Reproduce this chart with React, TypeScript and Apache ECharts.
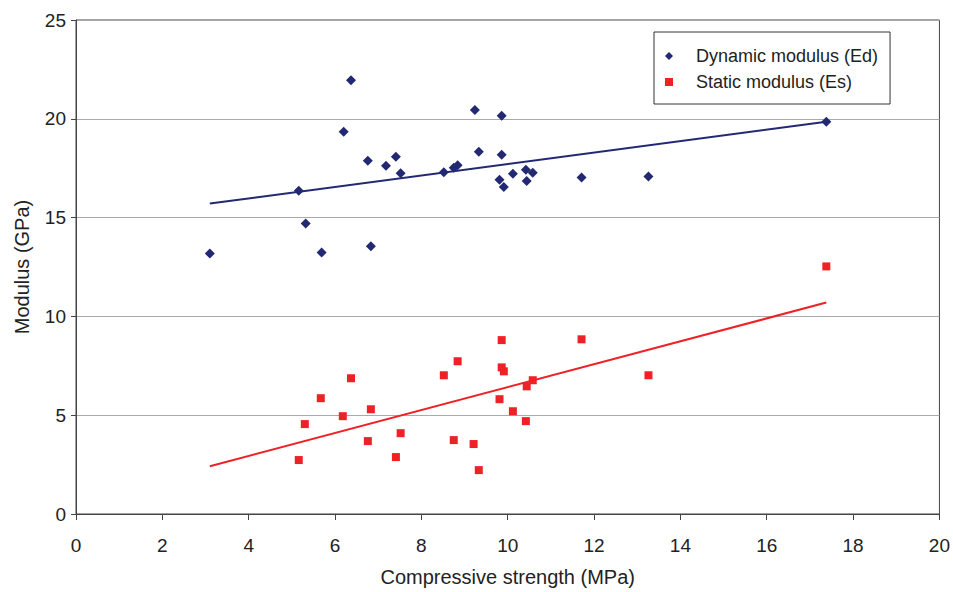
import React, { useEffect, useRef } from "react";
import * as echarts from "echarts";

const strengthEd = [3.1, 5.16, 5.32, 5.69, 6.2, 6.37, 6.76, 6.83, 7.18, 7.41, 7.52, 8.52, 8.75, 8.84, 9.24, 9.33, 9.81, 9.86, 9.86, 9.91, 10.12, 10.42, 10.44, 10.58, 11.71, 13.26, 17.38];
const dynamicModulus = [13.18, 16.36, 14.7, 13.23, 19.35, 21.95, 17.88, 13.55, 17.63, 18.08, 17.25, 17.3, 17.52, 17.65, 20.45, 18.33, 16.92, 20.15, 18.18, 16.55, 17.22, 17.42, 16.85, 17.27, 17.03, 17.08, 19.85];

const strengthEs = [5.16, 5.3, 5.67, 6.18, 6.37, 6.76, 6.83, 7.41, 7.52, 8.52, 8.75, 8.84, 9.21, 9.33, 9.81, 9.86, 9.86, 9.91, 10.12, 10.42, 10.44, 10.58, 11.71, 13.26, 17.38];
const staticModulus = [2.73, 4.55, 5.86, 4.95, 6.87, 3.69, 5.3, 2.88, 4.09, 7.02, 3.74, 7.73, 3.54, 2.22, 5.81, 8.8, 7.42, 7.22, 5.2, 4.7, 6.46, 6.77, 8.84, 7.02, 12.53];

const trendX = [3.1, 17.38];
const trendEd = [15.71, 19.85];
const trendEs = [2.42, 10.7];

const navy = "#232873";
const red = "#ee2127";
const font = "Liberation Sans";

export default function App() {
  const ref = useRef<HTMLDivElement>(null);
  useEffect(() => {
    if (!ref.current) return;
    const chart = echarts.init(ref.current, undefined, { renderer: "svg" });
    chart.setOption({
      animation: false,
      textStyle: { fontFamily: font },
      grid: { left: 76, right: 13, top: 20, bottom: 77, show: true, borderColor: "#444", borderWidth: 1 },
      legend: {
        data: [
          { name: "Dynamic modulus (Ed)", icon: "diamond", itemStyle: { color: navy, opacity: 1 } },
          { name: "Static modulus (Es)", icon: "rect", itemStyle: { color: red, opacity: 1 } },
        ],
        orient: "vertical",
        left: 654,
        top: 32,
        padding: [15, 12, 13, 11],
        itemGap: 8,
        itemWidth: 8,
        itemHeight: 8,
        borderColor: "#333",
        borderWidth: 1,
        backgroundColor: "#fff",
        textStyle: { fontFamily: font, fontSize: 18, color: "#222", padding: [0, 0, 0, 18] },
      },
      xAxis: {
        type: "value",
        min: 0,
        max: 20,
        interval: 2,
        name: "Compressive strength (MPa)",
        nameLocation: "middle",
        nameGap: 53,
        nameTextStyle: { fontSize: 20, color: "#222", fontFamily: font },
        axisLine: { show: true, lineStyle: { color: "#444" } },
        axisTick: { show: true, length: 6, lineStyle: { color: "#444" } },
        axisLabel: { fontSize: 19, color: "#222", margin: 22, fontFamily: font },
        splitLine: { show: false },
      },
      yAxis: {
        type: "value",
        min: 0,
        max: 25,
        interval: 5,
        name: "Modulus (GPa)",
        nameLocation: "middle",
        nameGap: 44,
        nameTextStyle: { fontSize: 20, color: "#222", fontFamily: font },
        axisLine: { show: true, lineStyle: { color: "#444" } },
        axisTick: { show: true, length: 5, lineStyle: { color: "#444" } },
        axisLabel: { fontSize: 19, color: "#222", margin: 10, fontFamily: font },
        splitLine: { show: true, lineStyle: { color: "#aaa", width: 1 } },
      },
      series: [
        {
          name: "Dynamic modulus (Ed)",
          type: "scatter",
          symbol: "diamond",
          symbolSize: 10,
          itemStyle: { color: navy, opacity: 1 },
          data: strengthEd.map((x, i) => [x, dynamicModulus[i]]),
          z: 3,
        },
        {
          name: "Static modulus (Es)",
          type: "scatter",
          symbol: "rect",
          symbolSize: 8,
          itemStyle: { color: red, opacity: 1 },
          data: strengthEs.map((x, i) => [x, staticModulus[i]]),
          z: 3,
        },
        {
          name: "trendEd",
          type: "line",
          showSymbol: false,
          symbol: "none",
          silent: true,
          lineStyle: { color: navy, width: 2 },
          data: trendX.map((x, i) => [x, trendEd[i]]),
          z: 2,
        },
        {
          name: "trendEs",
          type: "line",
          showSymbol: false,
          symbol: "none",
          silent: true,
          lineStyle: { color: red, width: 2 },
          data: trendX.map((x, i) => [x, trendEs[i]]),
          z: 2,
        },
      ],
    });
    return () => chart.dispose();
  }, []);
  return <div ref={ref} style={{ width: 953, height: 592, position: "absolute", left: 0, top: 0 }} />;
}
